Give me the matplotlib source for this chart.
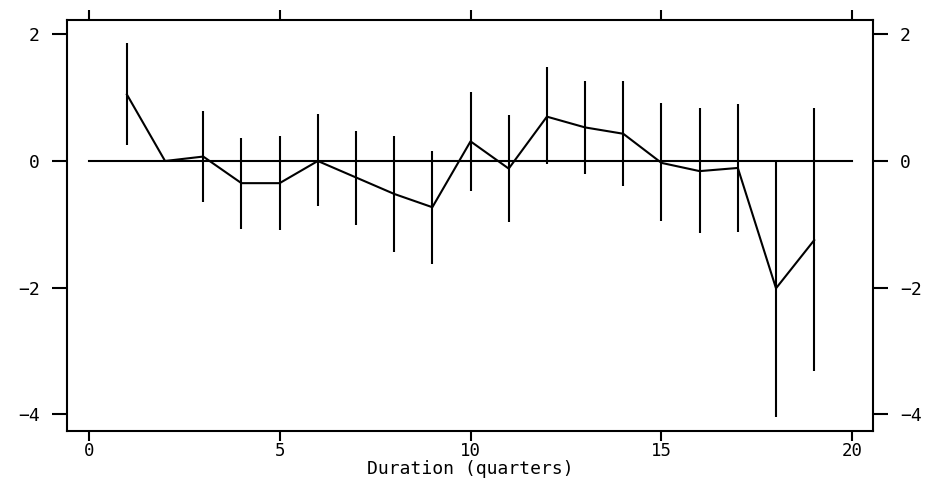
import numpy as np
import matplotlib
matplotlib.use("Agg")
import matplotlib.pyplot as plt

# Data
duration = [1, 2, 3, 4, 5, 6, 7, 8, 9, 10, 11, 12, 13, 14, 15, 16, 17, 18, 19]
estimate = [1.05, 0.0, 0.07, -0.35, -0.35, 0.0, -0.26, -0.52, -0.73, 0.31, -0.12,
            0.70, 0.53, 0.43, -0.03, -0.16, -0.11, -2.01, -1.25]
upper = [1.87, np.nan, 0.79, 0.37, 0.39, 0.74, 0.47, 0.40, 0.16, 1.09, 0.72,
         1.48, 1.26, 1.26, 0.91, 0.83, 0.90, 0.00, 0.84]
lower = [0.25, np.nan, -0.65, -1.08, -1.09, -0.71, -1.01, -1.44, -1.63, -0.47, -0.97,
         -0.05, -0.20, -0.40, -0.95, -1.14, -1.12, -4.04, -3.31]
ref_x = [0, 20]
ref_y = [0, 0]
xticks = [0, 5, 10, 15, 20]
yticks = [-4, -2, 0, 2]
xlabel = "Duration (quarters)"

plt.rcParams['font.family'] = ['DejaVu Sans Mono']

fig = plt.figure(figsize=(9.26, 4.78), dpi=100)
ax = fig.add_axes([67/926, 1-431/478, (873-67)/926, (431-20)/478])

lw = 1.5
ax.plot(ref_x, ref_y, color='black', lw=lw)
ax.plot(duration, estimate, color='black', lw=lw)
ax.vlines(duration, lower, upper, color='black', lw=lw)

ax.set_xlim(-0.568, 20.54)
ax.set_ylim(-4.263, 2.226)

ax.set_xticks(xticks)
ax.set_yticks(yticks)
ax.set_yticklabels([str(v).replace('-', '\u2212') for v in yticks])
ax.tick_params(axis='x', which='both', direction='out', length=7.5, width=lw,
               top=True, labeltop=False, bottom=True, labelbottom=True,
               labelsize=12.5, pad=0.5)
ax.tick_params(axis='y', which='both', direction='out', length=10.5, width=lw,
               left=True, right=True, labelleft=True, labelright=True,
               labelsize=13, pad=9)
for s in ax.spines.values():
    s.set_linewidth(lw)

ax.set_xlabel(xlabel, fontsize=13, labelpad=0)

fig.savefig("out.png", dpi=100)
